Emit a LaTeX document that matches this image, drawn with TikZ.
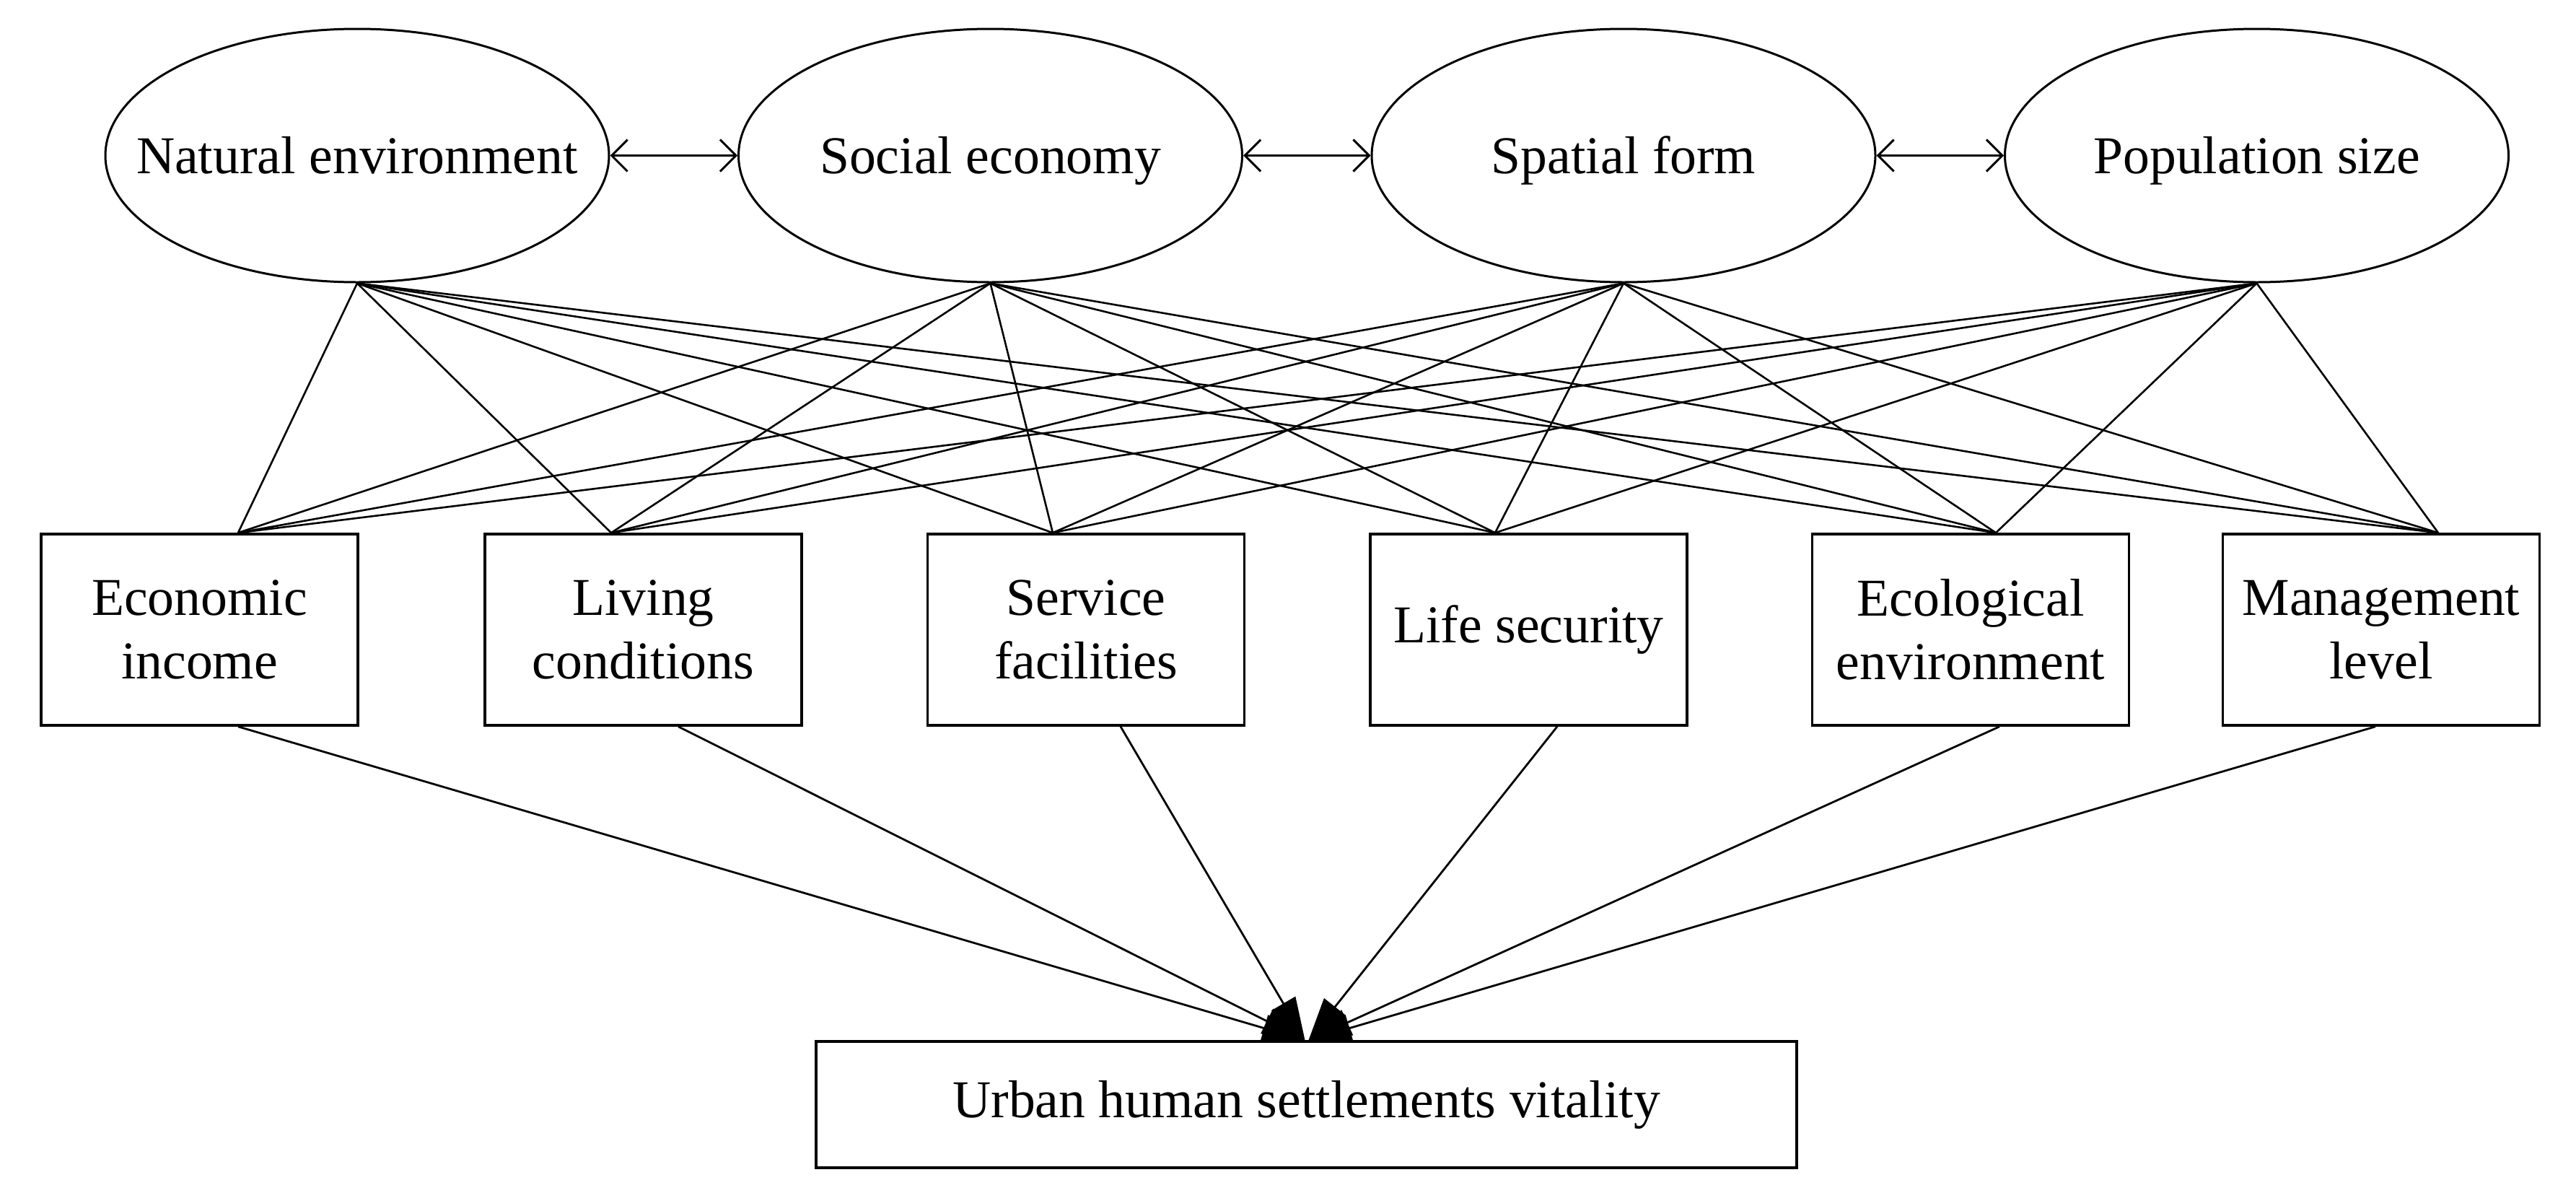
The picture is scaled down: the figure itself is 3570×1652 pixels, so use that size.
\documentclass[tikz,border=0pt]{standalone}
\usepackage{fontspec}
\setmainfont{Liberation Serif}
\usetikzlibrary{arrows.meta,calc,shapes.geometric}
\begin{document}
\begin{tikzpicture}[x=1pt,y=-1pt,
  lbl/.style={font=\fontsize{73.7}{88.3}\selectfont, inner sep=0pt},
  factor/.style={ellipse, draw, line width=3pt, minimum width=698pt, minimum height=351pt, inner sep=0pt},
  ftext/.style={lbl, text height=50pt, text depth=0pt},
  dimbox/.style={rectangle, draw, fill=white, line width=3.5pt, minimum width=439pt, minimum height=265pt, align=center, lbl},
  goalbox/.style={rectangle, draw, fill=white, line width=3.5pt, minimum width=1359pt, minimum height=175pt, lbl},
  conn/.style={line width=2.6pt},
  dbl/.style={line width=3pt, {Straight Barb[length=22pt,width=44pt]}-{Straight Barb[length=22pt,width=44pt]}},
  toGoal/.style={line width=2.8pt, -{Triangle[length=59pt,width=38pt]}}
]
\useasboundingbox (0,0) rectangle (3570,1652);

% latent factors
\node[factor] (e1) at (495,215.5) {};
\node[factor] (e2) at (1372.5,215.5) {};
\node[factor] (e3) at (2250,215.5) {};
\node[factor] (e4) at (3127.5,215.5) {};
\node[ftext] (t1) at (e1.center) {Natural environment};
\node[ftext] (t2) at (e2.center) {Social economy};
\node[ftext] (t3) at (e3.center) {Spatial form};
\node[ftext] (t4) at (e4.center) {Population size};

\draw[dbl] (e1.east) -- (e2.west);
\draw[dbl] (e2.east) -- (e3.west);
\draw[dbl] (e3.east) -- (e4.west);

% dimensions
\node[dimbox] (b1) at (276.5,872.5) {Economic\\income};
\node[dimbox] (b2) at (891.5,872.5) {Living\\conditions};
\node[dimbox] (b3) at (1505,872.5) {Service\\facilities};
\node[dimbox] (b4) at (2118.5,872.5) {Life security};
\node[dimbox] (b5) at (2731,872.5) {Ecological\\environment};
\node[dimbox] (b6) at (3300,872.5) {Management\\level};

% goal
\node[goalbox] (ub) at (1810.5,1530.5) {Urban human settlements vitality};

% attachment points
\coordinate (b1t) at ($(b1.north)+(53.5,0)$);
\coordinate (b2t) at ($(b2.north)+(-44.5,0)$);
\coordinate (b3t) at ($(b3.north)+(-46,0)$);
\coordinate (b4t) at ($(b4.north)+(-46.5,0)$);
\coordinate (b5t) at ($(b5.north)+(35,0)$);
\coordinate (b6t) at ($(b6.north)+(79,0)$);
\coordinate (b1b) at ($(b1.south)+(53.5,0)$);
\coordinate (b2b) at ($(b2.south)+(48.5,0)$);
\coordinate (b3b) at ($(b3.south)+(48,0)$);
\coordinate (b4b) at ($(b4.south)+(39.5,0)$);
\coordinate (b5b) at ($(b5.south)+(40,0)$);
\coordinate (b6b) at ($(b6.south)+(-8,0)$);
\coordinate (ubl) at ($(ub.north)+(-2,0)$);
\coordinate (ubr) at ($(ub.north)+(3,0)$);

% factor -> dimension connectors
\foreach \e in {e1,e2,e3,e4}{
  \foreach \b in {b1t,b2t,b3t,b4t,b5t,b6t}{
    \draw[conn] (\e.south) -- (\b);
  }
}

% dimension -> goal
\foreach \b in {b1b,b2b,b3b}{ \draw[toGoal] (\b) -- (ubl); }
\foreach \b in {b4b,b5b,b6b}{ \draw[toGoal] (\b) -- (ubr); }
\end{tikzpicture}
\end{document}
